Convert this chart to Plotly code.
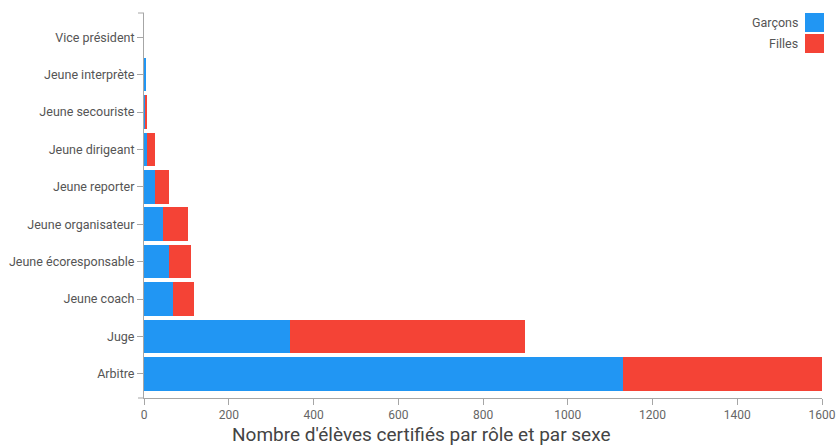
import plotly.graph_objects as go

roles = ["Vice président", "Jeune interprète", "Jeune secouriste", "Jeune dirigeant",
         "Jeune reporter", "Jeune organisateur", "Jeune écoresponsable", "Jeune coach",
         "Juge", "Arbitre"]
garcons = [0, 4, 2, 8, 27, 44, 59, 68, 345, 1131]
filles = [0, 0, 5, 19, 33, 60, 53, 49, 553, 469]
series_names = ["Garçons", "Filles"]
colors = ["#2196F3", "#F44336"]
x_ticks = [0, 200, 400, 600, 800, 1000, 1200, 1400, 1600]
title_text = "Nombre d'élèves certifiés par rôle et par sexe"

W, H = 836, 445
ml, mr, mt, mb = 144, 14, 13, 47
pw = W - ml - mr
ph = H - mt - mb

fig = go.Figure()
for name, vals, col in zip(series_names, [garcons, filles], colors):
    fig.add_trace(go.Bar(y=roles, x=vals, name=name, orientation="h",
                         marker=dict(color=col, line=dict(width=0)),
                         showlegend=False))

axis_col = "#a6a6a6"
fig.update_layout(
    width=W, height=H, barmode="stack", bargap=0.1,
    margin=dict(l=ml, r=mr, t=mt, b=mb, autoexpand=False),
    plot_bgcolor="white", paper_bgcolor="white",
    font=dict(family="Roboto", color="#555"),
    xaxis=dict(range=[0, 1600], tickvals=x_ticks, showgrid=False, zeroline=False,
               showline=True, linecolor=axis_col, linewidth=1, automargin=False,
               ticks="outside", ticklen=6, tickcolor=axis_col,
               tickfont=dict(size=12, color="#666")),
    yaxis=dict(range=[9.647, -0.647], showgrid=False, zeroline=False,
               showline=True, linecolor=axis_col, linewidth=1, automargin=False,
               ticks="outside", ticklen=6, tickcolor=axis_col,
               tickfont=dict(size=12.5, color="#555")),
)

# x axis title as centred text below the chart
fig.add_annotation(text=title_text, xref="paper", yref="paper",
                   x=(421 - ml) / pw, y=-(435 - (mt + ph)) / ph,
                   xanchor="center", yanchor="middle", showarrow=False,
                   font=dict(size=19, color="#444"))

# outer ticks of the y axis domain
for yv in [0, 1]:
    fig.add_shape(type="line", xref="paper", yref="paper",
                  x0=-6 / pw, x1=0, y0=yv, y1=yv,
                  line=dict(color=axis_col, width=1))

# custom legend (swatch on the right of the label)
sq = 19
for i, (name, col) in enumerate(zip(series_names, colors)):
    top = 13 + i * 21
    fig.add_shape(type="rect", xref="paper", yref="paper",
                  x0=(805 - ml) / pw, x1=(805 + sq - ml) / pw,
                  y0=1 - (top + sq - mt) / ph, y1=1 - (top - mt) / ph,
                  fillcolor=col, line=dict(width=0))
    fig.add_annotation(text=name, xref="paper", yref="paper",
                       x=(800 - ml) / pw, y=1 - (top + sq / 2 - mt) / ph,
                       xanchor="right", yanchor="middle", showarrow=False,
                       font=dict(size=12.5, color="#555"))

fig.write_html("out.html", config={"displayModeBar": False},
               post_script="document.body.style.margin='0';document.body.style.overflow='hidden';")
